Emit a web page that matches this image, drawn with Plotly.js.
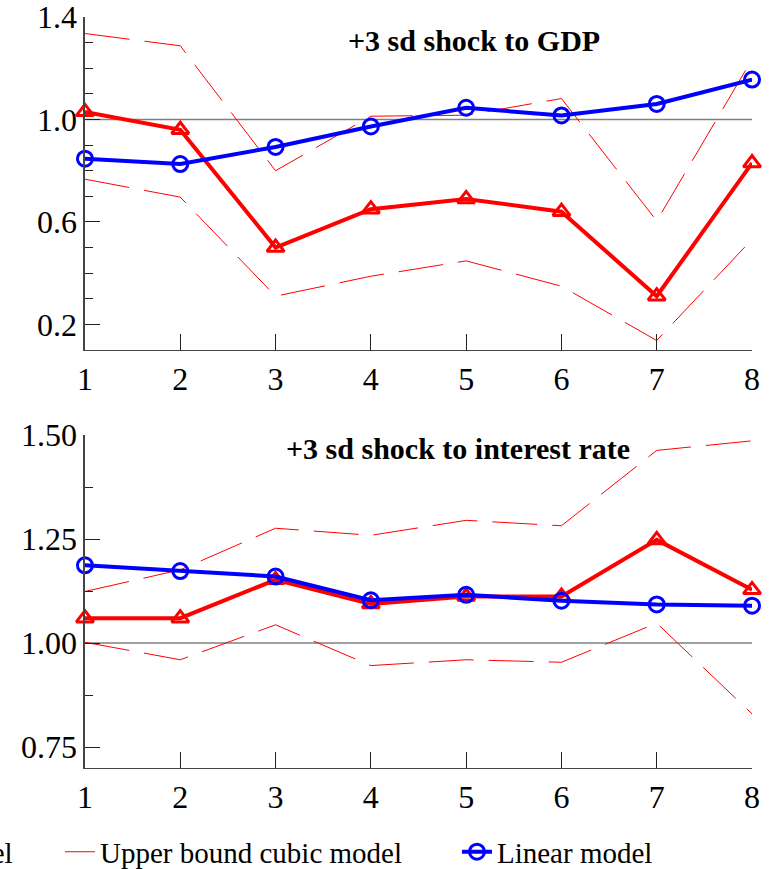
<!DOCTYPE html>
<html>
<head>
<meta charset="utf-8">
<script src="https://cdn.plot.ly/plotly-3.0.1.min.js"></script>
<style>
  html, body { margin: 0; padding: 0; background: #ffffff; }
  #chart { width: 771px; height: 869px; }
</style>
</head>
<body>
<div id="chart"></div>
<script>
// Horizon (periods after the shock)
const horizon = [1, 2, 3, 4, 5, 6, 7, 8];

// +3 sd shock to GDP
const gdpCubic  = [1.03, 0.96, 0.50, 0.65, 0.69, 0.64, 0.31, 0.83];
const gdpLower  = [0.767, 0.697, 0.31, 0.388, 0.448, 0.349, 0.137, 0.532];
const gdpUpper  = [1.336, 1.288, 0.80, 1.013, 1.017, 1.082, 0.604, 1.235];
const gdpLinear = [0.847, 0.826, 0.893, 0.973, 1.046, 1.016, 1.061, 1.156];

// +3 sd shock to interest rate
const rateCubic  = [1.06, 1.06, 1.152, 1.094, 1.112, 1.112, 1.248, 1.128];
const rateLower  = [1.002, 0.96, 1.044, 0.946, 0.96, 0.954, 1.048, 0.83];
const rateUpper  = [1.124, 1.176, 1.276, 1.259, 1.295, 1.282, 1.463, 1.486];
const rateLinear = [1.187, 1.173, 1.16, 1.103, 1.116, 1.102, 1.093, 1.09];

const panelTitles = ['+3 sd shock to GDP', '+3 sd shock to interest rate'];
const seriesNames = ['Cubic model', 'Lower bound cubic model', 'Upper bound cubic model', 'Linear model'];

const SERIF = "'Liberation Serif', 'Times New Roman', serif";
const RED = '#ff0000';
const BLUE = '#0000ff';

function bound(y, xa, ya, name, show, legend) {
  return {
    x: horizon, y: y, xaxis: xa, yaxis: ya, name: name,
    type: 'scatter', mode: 'lines', showlegend: show, legend: legend,
    line: { color: RED, width: 1, dash: '45px,15px' },
    cliponaxis: false, hoverinfo: 'skip'
  };
}
function cubic(y, xa, ya, show) {
  return {
    x: horizon, y: y, xaxis: xa, yaxis: ya, name: seriesNames[0],
    type: 'scatter', mode: 'lines+markers', showlegend: show, legend: 'legend',
    line: { color: RED, width: 4 },
    marker: { symbol: 'triangle-up-open', size: 15, color: RED, line: { color: RED, width: 3 } },
    cliponaxis: false
  };
}
function linear(y, xa, ya, show) {
  return {
    x: horizon, y: y, xaxis: xa, yaxis: ya, name: seriesNames[3],
    type: 'scatter', mode: 'lines+markers', showlegend: show, legend: 'legend3',
    line: { color: BLUE, width: 4 },
    marker: { symbol: 'circle-open', size: 15, color: BLUE, line: { color: BLUE, width: 3 } },
    cliponaxis: false
  };
}

const data = [
  bound(gdpLower, 'x', 'y', seriesNames[1], false, 'legend'),
  bound(gdpUpper, 'x', 'y', seriesNames[2], false, 'legend2'),
  cubic(gdpCubic, 'x', 'y', false),
  linear(gdpLinear, 'x', 'y', false),
  bound(rateLower, 'x2', 'y2', seriesNames[1], true, 'legend'),
  bound(rateUpper, 'x2', 'y2', seriesNames[2], true, 'legend2'),
  cubic(rateCubic, 'x2', 'y2', true),
  linear(rateLinear, 'x2', 'y2', true)
];
// legend order within the first legend: cubic, then lower bound
data[6].legendrank = 1; data[4].legendrank = 2;

const AXIS_COLOR = '#444444';
const xBase = {
  range: [1, 8], showline: true, linecolor: AXIS_COLOR, linewidth: 1.5,
  showgrid: false, zeroline: false, tickmode: 'array', tickvals: horizon,
  ticktext: horizon.map(String), ticks: 'inside', ticklen: 16, tickwidth: 1, tickcolor: '#222',
  tickfont: { family: SERIF, size: 32, color: '#000' }, fixedrange: true,
  ticklabeloverflow: 'allow'
};
const yBase = {
  showline: true, linecolor: AXIS_COLOR, linewidth: 1.5, showgrid: false, zeroline: false,
  ticks: 'inside', ticklen: 15, tickwidth: 1, tickcolor: '#222',
  tickfont: { family: SERIF, size: 32, color: '#000' }, fixedrange: true,
  ticklabeloverflow: 'allow'
};

const legendBase = {
  orientation: 'h', xanchor: 'left', y: -0.053, yanchor: 'middle',
  bgcolor: 'rgba(0,0,0,0)', borderwidth: 0, traceorder: 'normal',
  font: { family: SERIF, size: 29, color: '#000' }
};

const layout = {
  width: 771, height: 869,
  margin: { l: 0, r: 0, t: 0, b: 60, autoexpand: false },
  paper_bgcolor: '#ffffff', plot_bgcolor: 'rgba(0,0,0,0)',
  font: { family: SERIF, color: '#000' },
  xaxis: Object.assign({}, xBase, { domain: [0.1102, 0.9754], anchor: 'y' }),
  yaxis: Object.assign({}, yBase, {
    domain: [0.5674, 0.9790], anchor: 'x', range: [0.1, 1.4005],
    tick0: 0.2, dtick: 0.4, tickformat: '.1f',
    minor: { dtick: 0.1, tick0: 0.2, ticks: 'inside', ticklen: 8, tickcolor: '#222', showgrid: false }
  }),
  xaxis2: Object.assign({}, xBase, { domain: [0.1102, 0.9754], anchor: 'y2' }),
  yaxis2: Object.assign({}, yBase, {
    domain: [0.0507, 0.4623], anchor: 'x2', range: [0.7, 1.5],
    tick0: 0.75, dtick: 0.25, tickformat: '.2f',
    minor: { dtick: 0.125, tick0: 0.75, ticks: 'inside', ticklen: 8, tickcolor: '#222', showgrid: false }
  }),
  shapes: [
    { type: 'line', xref: 'x', yref: 'y', x0: 1, x1: 8, y0: 1, y1: 1, layer: 'below',
      line: { color: '#808080', width: 1.5 } },
    { type: 'line', xref: 'x2', yref: 'y2', x0: 1, x1: 8, y0: 1, y1: 1, layer: 'below',
      line: { color: '#808080', width: 1.5 } }
  ],
  annotations: [
    { text: '<b>' + panelTitles[0] + '</b>', xref: 'paper', yref: 'paper', x: 0.6148, y: 0.9505,
      xanchor: 'center', yanchor: 'middle', showarrow: false,
      font: { family: SERIF, size: 30, color: '#000' } },
    { text: '<b>' + panelTitles[1] + '</b>', xref: 'paper', yref: 'paper', x: 0.594, y: 0.4462,
      xanchor: 'center', yanchor: 'middle', showarrow: false,
      font: { family: SERIF, size: 30, color: '#000' } }
  ],
  legend:  Object.assign({}, legendBase, { x: -0.683 }),
  legend2: Object.assign({}, legendBase, { x: 0.0778 }),
  legend3: Object.assign({}, legendBase, { x: 0.5927 }),
  hovermode: false
};

Plotly.newPlot('chart', data, layout, { displayModeBar: false, staticPlot: true });
</script>
</body>
</html>
